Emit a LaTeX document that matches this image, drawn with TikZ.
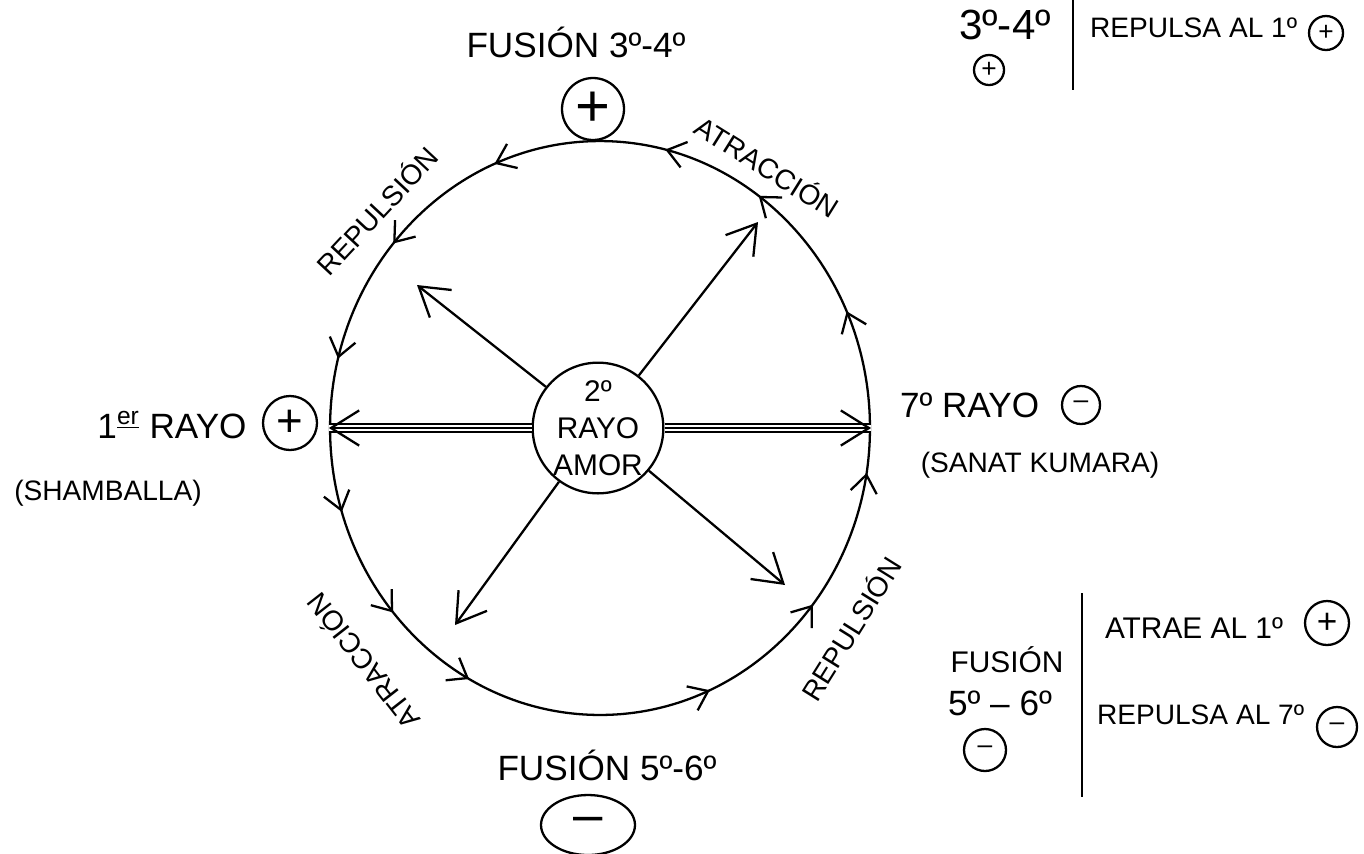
\documentclass[tikz,border=0pt]{standalone}
\usepackage{fontspec}
\setmainfont{Liberation Sans}
\usetikzlibrary{arrows.meta,shapes.geometric}

\begin{document}
\begin{tikzpicture}[x=0.02cm, y=-0.02cm, line width=1.3pt,
    every node/.style={font=\fontsize{16}{19}\selectfont},
    big/.style={font=\fontsize{20}{24}\selectfont},
    sign/.style={draw, circle, inner sep=0pt, minimum size=#1, font=\fontsize{15}{15}\selectfont},
    ray/.style={-{Straight Barb[length=16pt,width=20pt]}},
    flow/.style={-{Straight Barb[length=10pt,width=15pt]}},
    beam/.style={double, double distance=3.5pt, line width=1.1pt}]
    \useasboundingbox (0,0) rectangle (1364,853);
    \node[draw, ellipse, minimum width=10.8cm, minimum height=11.48cm, inner sep=0pt] (ring) at (600,428) {};
    \node[draw, circle, minimum size=2.4cm, inner sep=0pt, align=center, font=\fontsize{17}{21}\selectfont] (amor) at (598,428) {2º\\RAYO\\AMOR};
    \coordinate (ul) at (417,285);
    \coordinate (ur) at (758,222);
    \coordinate (ll) at (455,625);
    \coordinate (lr) at (785,585);
    \foreach \p in {ul,ur,ll,lr} \draw[ray] (amor) -- (\p);
    \draw[beam] (amor.east) -- (ring.east);
    \draw[ray] (amor.east) -- (ring.east);
    \draw[beam] (amor.west) -- (ring.west);
    \draw[ray] (amor.west) -- (ring.west);
    \foreach \t in {24,54,76,113,140,166,197,220,241,294,322,351}
        \draw[flow] ({600+270*cos(\t-1)},{428-287*sin(\t-1)}) -- ({600+270*cos(\t)},{428-287*sin(\t)});
    \node[rotate=47] (rep1) at (376,210) {REPULSIÓN};
    \node[rotate=-32] (atr1) at (768,166) {ATRACCIÓN};
    \node[rotate=128] (atr2) at (362,662) {ATRACCIÓN};
    \node[rotate=58] (rep2) at (850,628) {REPULSIÓN};
    \node[big] (fus34) at (576,42) {FUSIÓN 3º-4º};
    \node[sign=1.24cm, font=\fontsize{34}{34}\selectfont] (plustop) at (593,109) {+};
    \node[big] (ray1) at (172,425) {1\textsuperscript{\underline{er}} RAYO};
    \node[sign=1.08cm, font=\fontsize{26}{26}\selectfont] (plusleft) at (290,423) {+};
    \node (shamb) at (108,493) {(SHAMBALLA)};
    \node[big, anchor=west] (ray7) at (893,405) {7º RAYO};
    \node[sign=0.76cm] (minright) at (1081,405) {–};
    \node (sanat) at (1040,465) {(SANAT KUMARA)};
    \node[big] (fus56) at (607,765) {FUSIÓN 5º-6º};
    \node[draw, ellipse, inner sep=0pt, minimum width=1.88cm, minimum height=1.2cm, font=\fontsize{30}{30}\selectfont] (minbot) at (588,825) {–};
    \node[font=\fontsize{24}{28}\selectfont] (t34) at (1005,25) {3º-4º};
    \node[sign=0.6cm] (t34sign) at (989,70) {+};
    \coordinate (tbar1) at (1073,0);
    \coordinate (tbar2) at (1073,90);
    \draw (tbar1) -- (tbar2);
    \node[anchor=west] (rep1st) at (1083,28) {REPULSA AL 1º};
    \node[sign=0.68cm] (rep1sign) at (1326,33) {+};
    \node[font=\fontsize{17}{20}\selectfont] (fus) at (1007,660) {FUSIÓN};
    \node[big] (f56) at (1000,703) {5º – 6º};
    \node[sign=0.84cm] (f56sign) at (985,750) {–};
    \coordinate (bbar1) at (1082,593);
    \coordinate (bbar2) at (1082,797);
    \draw (bbar1) -- (bbar2);
    \node[anchor=west, font=\fontsize{17}{20}\selectfont] (atr1st) at (1098,628) {ATRAE AL 1º};
    \node[sign=0.88cm, font=\fontsize{20}{20}\selectfont] (atrsign) at (1327,623) {+};
    \node[anchor=west] (rep7th) at (1090,715) {REPULSA AL 7º};
    \node[sign=0.8cm] (rep7sign) at (1337,727) {–};
\end{tikzpicture}
\end{document}
